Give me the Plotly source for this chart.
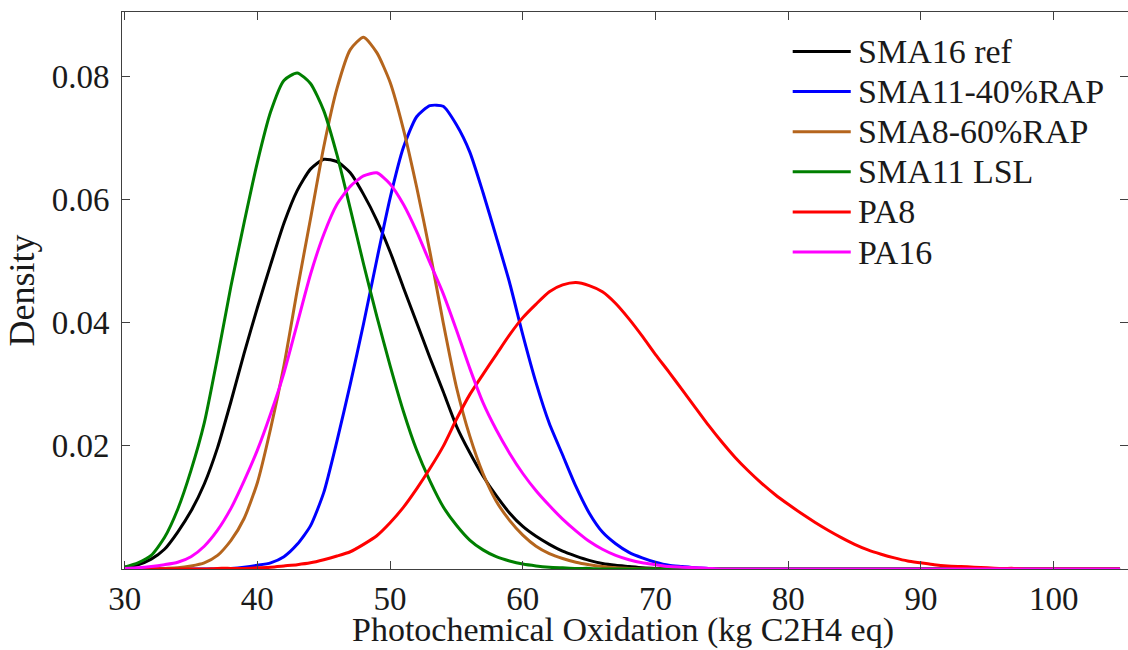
import plotly.graph_objects as go

x_values = list(range(30, 106))

series_names = ["SMA16 ref", "SMA11-40%RAP", "SMA8-60%RAP", "SMA11 LSL", "PA8", "PA16"]
series_colors = ["#000000", "#0000FF", "#B5651D", "#007F00", "#FF0000", "#FF00FF"]

sma16_ref = [0.0003, 0.0007, 0.0016, 0.0032, 0.0060, 0.0094, 0.0138, 0.0197, 0.0271, 0.0350,
             0.0424, 0.0494, 0.0561, 0.0614, 0.0649, 0.0665, 0.0661, 0.0643, 0.0608, 0.0566,
             0.0515, 0.0457, 0.0400, 0.0343, 0.0288, 0.0232, 0.0189, 0.0151, 0.0119, 0.0091,
             0.0069, 0.0053, 0.0040, 0.0029, 0.0021, 0.0014, 0.0009, 0.0006, 0.0004, 0.0002,
             0.0001] + [0.0] * 35

sma11_40rap = [0.0] * 8 + [0.0001, 0.0003, 0.0006, 0.0010, 0.0020, 0.0040, 0.0070, 0.0124,
               0.0208, 0.0300, 0.0398, 0.0502, 0.0602, 0.0684, 0.0734, 0.0752, 0.0751, 0.0721,
               0.0677, 0.0611, 0.0539, 0.0465, 0.0380, 0.0302, 0.0236, 0.0185, 0.0134, 0.0091,
               0.0060, 0.0041, 0.0027, 0.0018, 0.0011, 0.0006, 0.0004, 0.0002, 0.0001] + [0.0] * 31

sma8_60rap = [0.0, 0.0, 0.0, 0.0001, 0.0002, 0.0005, 0.0010, 0.0022, 0.0046, 0.0082,
              0.0140, 0.0228, 0.0330, 0.0452, 0.0568, 0.0685, 0.0780, 0.0843, 0.0863, 0.0838,
              0.0790, 0.0714, 0.0620, 0.0515, 0.0400, 0.0295, 0.0216, 0.0155, 0.0110, 0.0079,
              0.0055, 0.0037, 0.0025, 0.0017, 0.0011, 0.0007, 0.0004, 0.0002, 0.0001] + [0.0] * 37

sma11_lsl = [0.0003, 0.0010, 0.0022, 0.0051, 0.0097, 0.0160, 0.0237, 0.0344, 0.0458, 0.0562,
             0.0660, 0.0742, 0.0793, 0.0805, 0.0788, 0.0744, 0.0672, 0.0585, 0.0495, 0.0410,
             0.0330, 0.0256, 0.0193, 0.0143, 0.0101, 0.0071, 0.0047, 0.0031, 0.0020, 0.0013,
             0.0008, 0.0005, 0.0003, 0.0002, 0.0001, 0.0001] + [0.0] * 40

pa8 = [0.0, 0.0, 0.0, 0.0, 0.0, 0.0, 0.0, 0.0001, 0.0001, 0.0001,
       0.0002, 0.0003, 0.0005, 0.0007, 0.0010, 0.0015, 0.0021, 0.0028, 0.0040, 0.0054,
       0.0075, 0.0100, 0.0130, 0.0163, 0.0199, 0.0243, 0.0283, 0.0316, 0.0348, 0.0380,
       0.0408, 0.0430, 0.0450, 0.0461, 0.0465, 0.0460, 0.0450, 0.0431, 0.0406, 0.0378,
       0.0348, 0.0320, 0.0291, 0.0262, 0.0233, 0.0206, 0.0181, 0.0159, 0.0139, 0.0121,
       0.0105, 0.0090, 0.0076, 0.0063, 0.0051, 0.0040, 0.0031, 0.0024, 0.0018, 0.0013,
       0.0010, 0.0007, 0.0005, 0.0004, 0.0003, 0.0002, 0.0001, 0.0001] + [0.0] * 8

pa16 = [0.0001, 0.0002, 0.0004, 0.0007, 0.0011, 0.0020, 0.0037, 0.0063, 0.0098, 0.0143,
        0.0193, 0.0252, 0.0318, 0.0398, 0.0478, 0.0543, 0.0592, 0.0621, 0.0638, 0.0643,
        0.0625, 0.0592, 0.0548, 0.0497, 0.0447, 0.0388, 0.0326, 0.0270, 0.0226, 0.0188,
        0.0155, 0.0127, 0.0103, 0.0081, 0.0062, 0.0045, 0.0032, 0.0022, 0.0015, 0.0010,
        0.0007, 0.0004, 0.0003, 0.0002, 0.0001] + [0.0] * 31

series_values = [sma16_ref, sma11_40rap, sma8_60rap, sma11_lsl, pa8, pa16]

x_tick_values = [30, 40, 50, 60, 70, 80, 90, 100]
y_tick_values = [0.02, 0.04, 0.06, 0.08]
y_tick_labels = ["0.02", "0.04", "0.06", "0.08"]

x_title = "Photochemical Oxidation (kg C2H4 eq)"
y_title = "Density"

axis_color = "#404040"
text_color = "#1a1a1a"
font_family = "Liberation Serif"

fig = go.Figure()
for name, color, vals in zip(series_names, series_colors, series_values):
    fig.add_trace(go.Scatter(
        x=x_values, y=vals, mode="lines", name=name, showlegend=False,
        line=dict(color=color, width=3, shape="spline", smoothing=0.6),
    ))

# Legend drawn as line samples + text (matches the original's long line samples)
legend_x0, legend_x1, legend_text_x = 0.6667, 0.7244, 0.7294
legend_top, legend_step = 0.9291, 0.0720
for i, (name, color) in enumerate(zip(series_names, series_colors)):
    yy = legend_top - i * legend_step
    fig.add_shape(type="line", xref="paper", yref="paper",
                  x0=legend_x0, x1=legend_x1, y0=yy, y1=yy,
                  line=dict(color=color, width=3))
    fig.add_annotation(xref="paper", yref="paper", x=legend_text_x, y=yy,
                       xanchor="left", yanchor="middle", text=name, showarrow=False,
                       font=dict(family=font_family, size=34, color=text_color))

fig.add_annotation(xref="paper", yref="paper", x=0.4985, y=-0.1095,
                   xanchor="center", yanchor="middle", text=x_title, showarrow=False,
                   font=dict(family=font_family, size=34, color=text_color))

fig.update_layout(
    width=1128, height=650,
    margin=dict(l=122, r=0, t=12, b=81),
    plot_bgcolor="white", paper_bgcolor="white",
    font=dict(family=font_family, size=33, color=text_color),
    showlegend=False,
    xaxis=dict(
        range=[29.8, 105.6], tickmode="array", tickvals=x_tick_values,
        ticks="inside", ticklen=8, tickwidth=1, tickcolor=axis_color,
        showline=True, linecolor=axis_color, linewidth=1, mirror="ticks",
        showgrid=False, zeroline=False, automargin=False,
        tickfont=dict(size=33),
    ),
    yaxis=dict(
        range=[0, 0.0904], tickmode="array", tickvals=y_tick_values, ticktext=y_tick_labels,
        ticks="inside", ticklen=8, tickwidth=1, tickcolor=axis_color,
        showline=True, linecolor=axis_color, linewidth=1, mirror="ticks",
        showgrid=False, zeroline=False, automargin=False,
        ticklabelstandoff=5,
        title=dict(text=y_title, font=dict(size=36), standoff=6),
        tickfont=dict(size=33),
    ),
)

fig.write_html(
    "out.html",
    config={"displayModeBar": False, "responsive": False},
    post_script="document.body.style.margin='0';document.body.style.overflow='hidden';",
)
